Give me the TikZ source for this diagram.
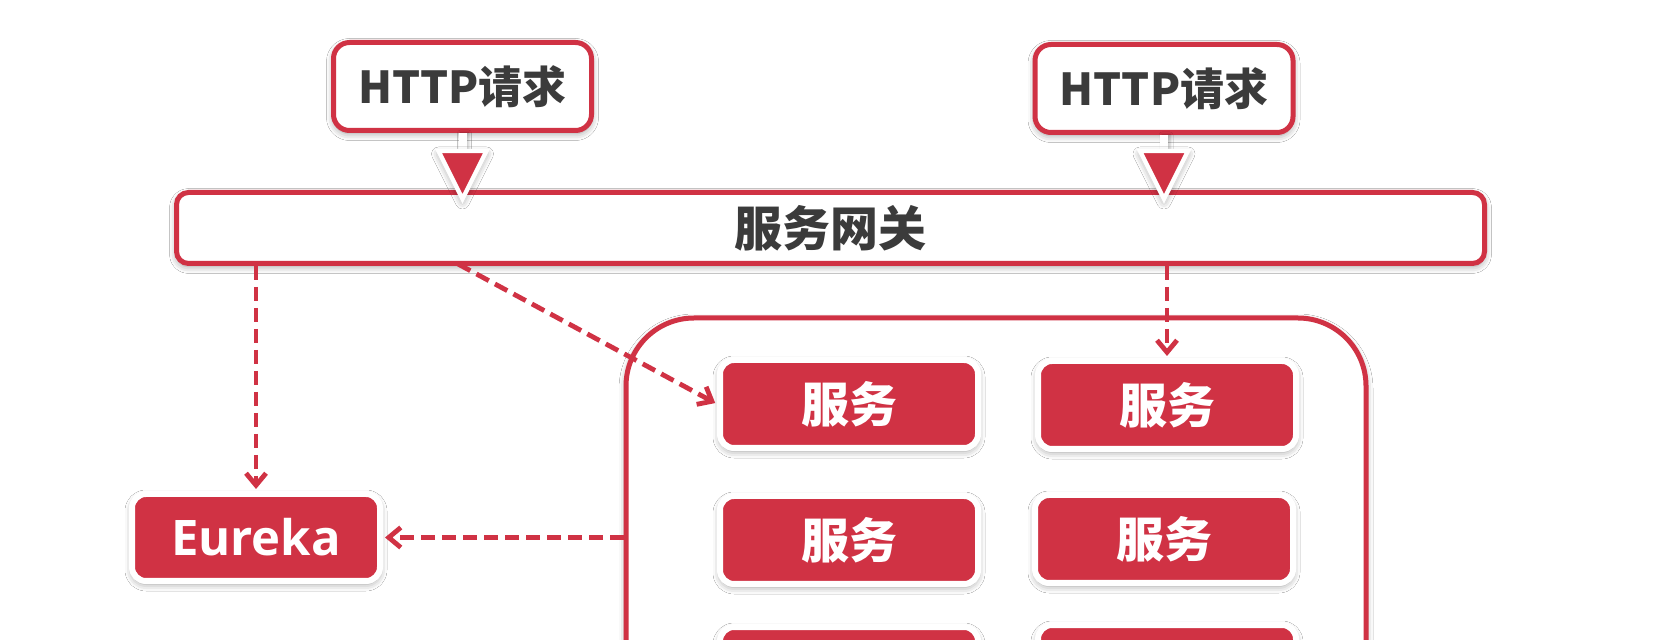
\documentclass[tikz,border=0pt]{standalone}
\usepackage{fontspec}
\newfontfamily\cjk{Noto Sans CJK SC}
\newfontfamily\eur{Open Sans}
\usetikzlibrary{arrows.meta,shadows.blur,calc}
\definecolor{rd}{RGB}{208,50,68}
\definecolor{txt}{RGB}{59,59,59}
\begin{document}
\begin{tikzpicture}[x=0.5pt,y=-0.5pt,
  sh/.style={blur shadow={shadow xshift=0pt,shadow yshift=-1.5pt,shadow blur radius=3.5pt,shadow opacity=40}},
  reqbox/.style={draw=rd,fill=white,line width=2.5pt,rounded corners=8pt,minimum width=129pt,minimum height=44pt,inner sep=0pt,text=txt,font=\cjk\bfseries\fontsize{22}{26}\selectfont,sh},
  gatebox/.style={draw=rd,fill=white,line width=2.5pt,rounded corners=6pt,minimum width=654pt,minimum height=35.5pt,inner sep=0pt,text=txt,font=\cjk\bfseries\fontsize{24}{28}\selectfont,sh},
  poolbox/.style={draw=rd,fill=white,line width=2.5pt,rounded corners=34pt,minimum width=370pt,minimum height=291pt,inner sep=0pt,sh},
  svc/.style={fill=rd,draw=white,line width=3pt,rounded corners=7pt,minimum width=129pt,minimum height=44pt,inner sep=0pt,text=white,font=\cjk\bfseries\fontsize{24}{28}\selectfont,sh},
  eubox/.style={fill=rd,draw=white,line width=3pt,rounded corners=7pt,minimum width=124pt,minimum height=43.5pt,inner sep=0pt,text=white,font=\eur\bfseries\fontsize{24.5}{28}\selectfont,sh},
  flow/.style={draw=rd,line width=2.4pt,dash pattern=on 7pt off 3.5pt,shorten >=1pt,-{Straight Barb[length=6pt,width=10pt,line width=2.4pt]}},
  tri/.style={fill=rd,draw=white,line width=2.2pt,line join=miter,sh},
  stem/.style={fill=white,blur shadow={shadow xshift=1pt,shadow yshift=0pt,shadow blur radius=1.5pt,shadow opacity=25}}
]
\useasboundingbox (0,0) rectangle (1654,640);
\fill[white] (0,0) rectangle (1654,640);
\clip (0,0) rectangle (1654,640);

% container of services
\node[poolbox] (pool) at (996,609) {};

% HTTP request boxes
\node[reqbox] (r1) at (462.5,86.5) {HTTP请求};
\node[reqbox] (r2) at (1164,88.5) {HTTP请求};

% gateway
\node[gatebox] (gw) at (830.5,228) {服务网关};

% arrows from requests into gateway
\fill[stem] ($(r1.south)+(-4,0)$) rectangle ($(r1.south)+(4,18)$);
\filldraw[tri] ($(r1.south)+(-24,18)$) -- ($(r1.south)+(24,18)$) -- ($(r1.south)+(0,66)$) -- cycle;
\fill[stem] ($(r2.south)+(-4,0)$) rectangle ($(r2.south)+(4,16)$);
\filldraw[tri] ($(r2.south)+(-24,16)$) -- ($(r2.south)+(24,16)$) -- ($(r2.south)+(0,64)$) -- cycle;

% services (third row only shows its top edge)
\node[svc] (s11) at (849,404) {服务};
\node[svc] (s12) at (1167,405) {服务};
\node[svc] (s21) at (849,540) {服务};
\node[svc] (s22) at (1164,539) {服务};
\node[svc] (s31) at (849,671) {};
\node[svc] (s32) at (1167,669) {};

% Eureka
\node[eubox] (eu) at (256,537.5) {Eureka};

% dashed connectors
\coordinate (gwd) at (458,264);
\draw[flow] (gw.south -| eu.north) -- (eu.north);
\draw[flow] (gwd) -- (s11.west);
\draw[flow] (gw.south -| s12.north) -- (s12.north);
\draw[flow] (eu.east -| pool.west) -- (eu.east);
\end{tikzpicture}
\end{document}
